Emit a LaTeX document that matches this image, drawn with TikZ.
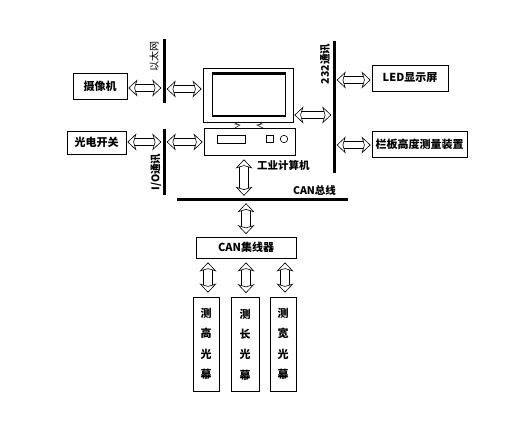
\documentclass[tikz,border=0pt]{standalone}
\usepackage{fontspec}
\setmainfont{Noto Sans CJK SC}
\usepackage{xcolor}
\usetikzlibrary{arrows.meta,positioning}

\begin{document}
\begin{tikzpicture}[
        x=1pt, y=-1pt,
        box/.style={draw, rectangle, line width=0.8pt, inner sep=0pt, font=\bfseries\fontsize{11}{12}\selectfont},
        stackbox/.style={box, minimum height=94pt, align=center, font=\bfseries\fontsize{11}{20.3}\selectfont},
        bus/.style={fill=black, rectangle, inner sep=0pt, minimum width=3pt},
        tag/.style={inner sep=0pt, font=\bfseries\fontsize{10.5}{12}\selectfont},
        linktip/.tip={Stealth[open, fill=white, length=9pt, width=17pt, inset=2.5pt, line width=0.6pt]},
        link/.style={line width=1pt, double=white, double distance=6pt, {linktip}-{linktip},
            shorten <=1pt, shorten >=1pt},
        vlink/.style={link, double distance=7.5pt, shorten <=4pt, shorten >=4pt}
    ]
        \useasboundingbox (0,0) rectangle (526,422);
        % left devices and buses
        \node[box, minimum width=54pt, minimum height=26pt] (camera) at (100,86) {摄像机};
        \node[box, minimum width=59pt, minimum height=23pt] (switch) at (96.5,142.5) {光电开关};
        \node[bus, minimum height=64pt] (ethbus) at (164,71) {};
        \node[bus, minimum height=66pt] (iobus) at (164,162) {};
        \node[tag, rotate=90, font=\fontsize{10}{12}\selectfont] (ethtag) at (154,56.5) {以太网};
        \node[tag, rotate=90] (iotag) at (156,172) {I/O通讯};
        % computer
        \node[box, minimum width=90pt, minimum height=54pt] (monitor) at (248,95) {};
        \node[draw, rectangle, line width=1.2pt, inner sep=0pt, minimum width=73pt, minimum height=42pt] (screen) at (249,95) {};
        \draw[line width=2pt] (screen.north west) -- (screen.north east);
        \node[box, minimum width=91pt, minimum height=27pt] (pc) at (249.5,141.5) {};
        \node[box, minimum width=28pt, minimum height=8pt] (slot) at (231,139) {};
        \node[box, minimum width=7pt, minimum height=7pt] (button) at (269.5,138.5) {};
        \node[draw, circle, line width=0.6pt, inner sep=0pt, minimum size=7.5pt] (knob) at (284,139) {};
        \draw[line width=0.5pt] (235,128) -- (240,125) -- (235,124) -- (239,122);
        \draw[line width=0.5pt] (263,128) -- (257,125) -- (262,124) -- (258,122);
        \node[tag, anchor=west] (pctag) at (257,165.5) {工业计算机};
        % right side
        \node[bus, minimum height=132pt] (rsbus) at (334,107) {};
        \node[tag, rotate=90] (rstag) at (325,64) {232通讯};
        \node[box, minimum width=76pt, minimum height=26pt] (led) at (410,78) {LED显示屏};
        \node[box, minimum width=95pt, minimum height=26pt] (railgauge) at (419.5,144) {栏板高度测量装置};
        % CAN part
        \node[bus, minimum width=171pt, minimum height=3pt] (canbus) at (262.5,199) {};
        \node[tag] (cantag) at (314.5,190) {CAN总线};
        \node[box, minimum width=100pt, minimum height=21pt] (hub) at (246,247.5) {CAN集线器\hspace{8pt}};
        \node[stackbox, minimum width=26pt] (curtainh) at (206,344) {测\\高\\光\\幕};
        \node[stackbox, minimum width=28pt] (curtainl) at (245,344.5) {测\\长\\光\\幕};
        \node[stackbox, minimum width=26pt] (curtainw) at (283,344) {测\\宽\\光\\幕};
        % links
        \draw[link] ([yshift=-2pt]camera.east) -- ([yshift=-2pt]camera.east -| ethbus.west);
        \draw[link] (ethbus.east |- monitor.west) ++(0,-6) coordinate (ethport) (ethport) -- (ethport -| monitor.west);
        \draw[link] ([yshift=0.5pt]switch.east) -- ([yshift=0.5pt]switch.east -| iobus.west);
        \draw[link] ([yshift=-0.5pt]iobus.east |- pc.west) -- ([yshift=-0.5pt]pc.west);
        \draw[link] (monitor.east |- 0,115) coordinate (rsport) (rsport) -- (rsport -| rsbus.west);
        \draw[link] (rsbus.east |- led.west) ++(0,2) coordinate (ledport) (ledport) -- (ledport -| led.west);
        \draw[link] (rsbus.east |- railgauge.west) ++(0,1) coordinate (railport) (railport) -- (railport -| railgauge.west);
        \draw[vlink, shorten >=1.5pt] (pc.south -| 244,0) coordinate (pcport) (pcport) -- (pcport |- canbus.north);
        \draw[vlink, shorten <=2.5pt, shorten >=2.5pt] (canbus.south -| 246,0) coordinate (canport) (canport) -- (canport |- hub.north);
        \draw[vlink] ([xshift=2pt]hub.south -| curtainh.north) -- ([xshift=2pt]curtainh.north);
        \draw[vlink] ([xshift=1pt]hub.south -| curtainl.north) -- ([xshift=1pt]curtainl.north);
        \draw[vlink] ([xshift=2pt]hub.south -| curtainw.north) -- ([xshift=2pt]curtainw.north);
    \end{tikzpicture}
\end{document}
